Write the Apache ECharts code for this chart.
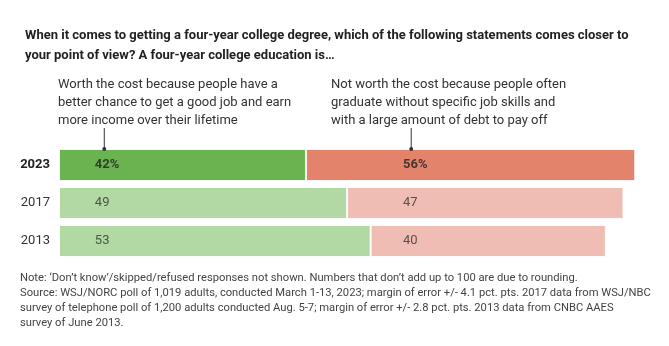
<!DOCTYPE html>
<html><head><meta charset="utf-8">
<script src="https://cdn.jsdelivr.net/npm/echarts@6/dist/echarts.min.js"></script>
<style>html,body{margin:0;padding:0;background:#fff}#c{width:669px;height:346px}</style>
</head><body><div id="c"></div>
<script>
var years = ['2023', '2017', '2013'];
var worth = [42, 49, 53];
var notWorth = [56, 47, 40];
var worthLabelAt = 6.1;    // value-axis position where the left-column numbers sit
var notLabelAt = 58.5;     // value-axis position where the right-column numbers sit
var worthPointerAt = 7.7;
var notPointerAt = 59.9;

var FONT = "Roboto, sans-serif";

var worthColors = ['#6ab350', '#b2d8a4', '#b2d8a4'];
var notColors = ['#e4836c', '#efbdb3', '#efbdb3'];

function labelData(at, vals) {
  return vals.map(function (v, i) { return { value: [at, i], v: v, idx: i }; });
}

var chart = echarts.init(document.getElementById('c'), null, {renderer: 'canvas'});
var option = {
  animation: false,
  title: {
    text: 'When it comes to getting a four-year college degree, which of the following statements comes closer to\nyour point of view? A four-year college education is\u2026',
    left: 20, top: 21,
    textStyle: {fontFamily: FONT, fontSize: 13, fontWeight: 'bold', color: '#222', lineHeight: 20}
  },
  grid: {left: 59, right: 22, top: 146, height: 114, containLabel: false},
  xAxis: {type: 'value', min: 0, max: 100, show: false},
  yAxis: {
    type: 'category', data: years, inverse: true,
    axisLine: {show: false}, axisTick: {show: false}, splitLine: {show: false},
    axisLabel: {
      margin: 9, fontFamily: FONT, fontSize: 13, color: '#333',
      formatter: function (v, i) { return i === 0 ? '{b|' + v + '}' : v; },
      rich: {b: {fontFamily: FONT, fontSize: 13, fontWeight: 'bold', color: '#222'}}
    }
  },
  series: [
    {
      type: 'bar', stack: 'a', barWidth: 32, name: 'Worth',
      data: worth.map(function (v, i) { return {value: v, itemStyle: {color: worthColors[i]}}; }),
      itemStyle: {borderColor: 'rgba(255,255,255,0.85)', borderWidth: 1}
    },
    {
      type: 'bar', stack: 'a', barWidth: 32, name: 'Not worth',
      data: notWorth.map(function (v, i) { return {value: v, itemStyle: {color: notColors[i]}}; }),
      itemStyle: {borderColor: 'rgba(255,255,255,0.85)', borderWidth: 1}
    },
    {
      type: 'scatter', symbolSize: 0, silent: true, z: 5,
      data: labelData(worthLabelAt, worth),
      label: {show: true, position: 'right', distance: 0,
        formatter: function (p) { return p.data.idx === 0 ? '{b|' + p.data.v + '%}' : '{n|' + p.data.v + '}'; },
        rich: {b: {fontFamily: FONT, fontSize: 13, fontWeight: 'bold', color: '#222'}, n: {fontFamily: FONT, fontSize: 13, color: '#333'}}}
    },
    {
      type: 'scatter', symbolSize: 0, silent: true, z: 5,
      data: labelData(notLabelAt, notWorth),
      label: {show: true, position: 'right', distance: 0,
        formatter: function (p) { return p.data.idx === 0 ? '{b|' + p.data.v + '%}' : '{n|' + p.data.v + '}'; },
        rich: {b: {fontFamily: FONT, fontSize: 13, fontWeight: 'bold', color: '#222'}, n: {fontFamily: FONT, fontSize: 13, color: '#333'}}}
    }
  ],
  graphic: [
    {type: 'text', left: 58, top: 76, style: {
      text: 'Worth the cost because people have a\nbetter chance to get a good job and earn\nmore income over their lifetime',
      font: '13px ' + FONT, fill: '#333', lineHeight: 18}},
    {type: 'text', left: 331, top: 76, style: {
      text: 'Not worth the cost because people often\ngraduate without specific job skills and\nwith a large amount of debt to pay off',
      font: '13px ' + FONT, fill: '#333', lineHeight: 18}},
    {type: 'text', left: 20, top: 271, style: {
      text: 'Note: \u2018Don\u2019t know\u2019/skipped/refused responses not shown. Numbers that don\u2019t add up to 100 are due to rounding.\nSource: WSJ/NORC poll of 1,019 adults, conducted March 1-13, 2023; margin of error +/- 4.1 pct. pts. 2017 data from WSJ/NBC\nsurvey of telephone poll of 1,200 adults conducted Aug. 5-7; margin of error +/- 2.8 pct. pts. 2013 data from CNBC AAES\nsurvey of June 2013.',
      font: '11.2px ' + FONT, fill: '#444', lineHeight: 15}}
  ]
};
chart.setOption(option);

// pointer lines from annotation text down to the 2023 bar
var extra = [];
[worthPointerAt, notPointerAt].forEach(function (x) {
  var p = chart.convertToPixel({gridIndex: 0}, [x, 0]);
  var barTop = p[1] - 16;
  extra.push({type: 'line', shape: {x1: p[0], y1: 128, x2: p[0], y2: barTop}, style: {stroke: '#333', lineWidth: 1}, z: 10});
  extra.push({type: 'circle', shape: {cx: p[0], cy: barTop, r: 2}, style: {fill: '#333'}, z: 10});
});
chart.setOption({graphic: option.graphic.concat(extra)});
</script>
</body></html>
